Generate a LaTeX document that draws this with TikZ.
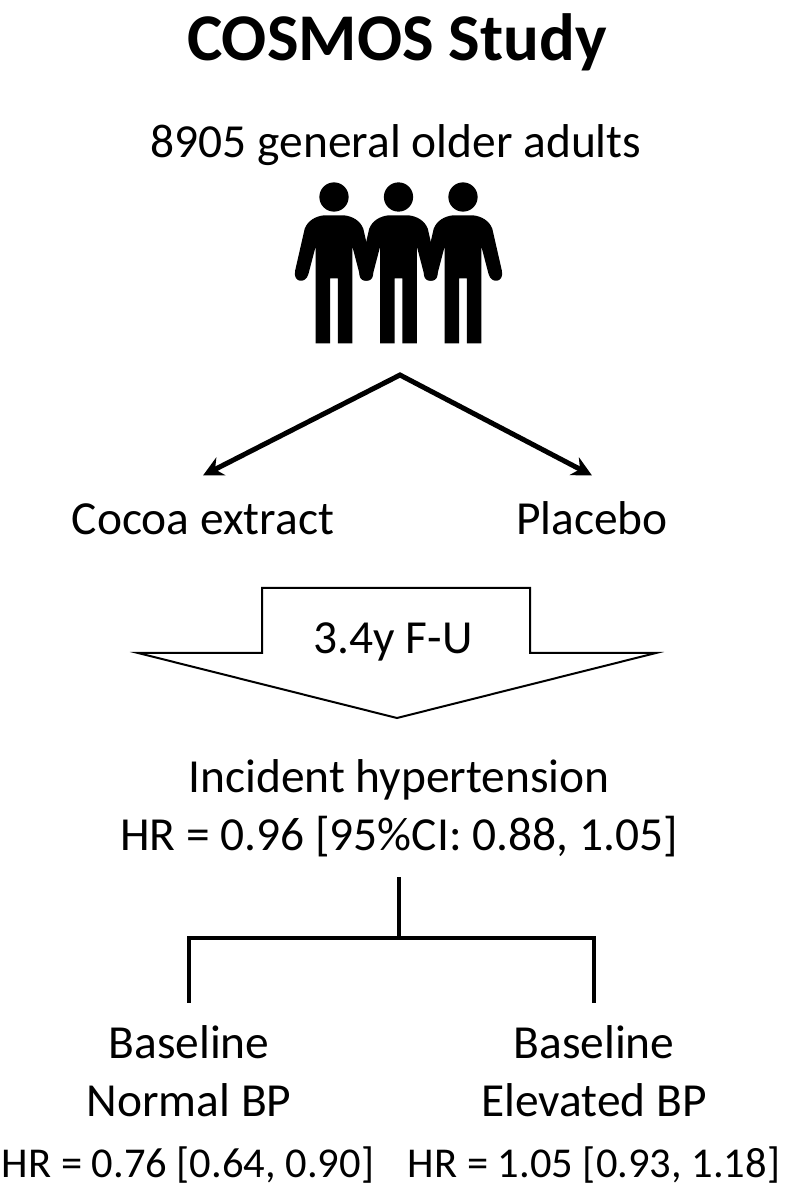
\documentclass[tikz,border=0pt]{standalone}
\usepackage{fontspec}
\usetikzlibrary{arrows.meta}
\setmainfont{Carlito}
\tikzset{
    lbl/.style={font=\fontsize{13.5}{16.4}\selectfont,align=center,inner sep=0pt},
    hrlbl/.style={font=\fontsize{12.1}{14}\selectfont,inner sep=0pt},
    armlbl/.style={lbl,text height=0.33cm,text depth=0cm,outer ysep=0.26cm},
    ttl/.style={font=\fontsize{19}{22}\selectfont\bfseries,inner sep=0pt},
    splitline/.style={{Stealth[length=0.2cm,width=0.2cm]}-{Stealth[length=0.2cm,width=0.2cm]},line width=0.05cm},
    forkline/.style={line width=0.04cm},
    person/.style={x=0.00333cm,y=0.00333cm}
}
\begin{document}
\begin{tikzpicture}[>=stealth]
\useasboundingbox (0,0) rectangle (7.89,12);
\node[ttl](title) at (3.97,11.58){COSMOS Study};
\node[lbl](adults) at (3.96,10.55){8905 general older adults};
% three people
\foreach \px in {3.34,3.985,4.63}{
\begin{scope}[shift={(\px,10.03)},person]
\fill (0,0) circle (44);
\fill (0,-55)--(30,-55) .. controls (55,-58) and (78,-70) .. (88,-95)--(117,-222) .. controls (124,-258) and (85,-262) .. (77,-232)--(55,-148)--(55,-440)--(12,-440)--(12,-245)--(-12,-245)--(-12,-440)--(-55,-440)--(-55,-148)--(-77,-232) .. controls (-85,-262) and (-124,-258) .. (-117,-222)--(-88,-95) .. controls (-78,-70) and (-55,-58) .. (-30,-55)--cycle;
\end{scope}
}
\coordinate (apex) at (4,8.25);
\node[armlbl](cocoa) at (2.03,6.82){Cocoa extract};
\node[armlbl](placebo) at (5.92,6.82){Placebo};
\draw[splitline](cocoa.north)--(apex)--(placebo.north);
% follow-up arrow
\draw[line width=0.02cm,fill=white](2.62,5.47)--(1.38,5.47)--(3.97,4.82)--(6.56,5.47)--(5.3,5.47)--(5.3,6.12)--(2.62,6.12)--cycle;
\node[lbl](fu) at (3.93,5.58){3.4y F-U};
\node[lbl](incident) at (3.99,3.92){Incident hypertension\\HR = 0.96 [95\%CI: 0.88, 1.05]};
\coordinate (fork) at (3.99,2.62);
\node[lbl](normal) at (1.89,1.29){Baseline\\Normal BP};
\node[lbl](elevated) at (5.94,1.29){Baseline\\Elevated BP};
\draw[forkline,shorten <=0.2cm](incident.south)--(fork);
\draw[forkline,shorten <=0.22cm,shorten >=0.22cm](normal.north)|-(fork)-|(elevated.north);
\node[hrlbl](hrnormal) at (1.88,0.35){HR = 0.76 [0.64, 0.90]};
\node[hrlbl](hrelevated) at (5.94,0.35){HR = 1.05 [0.93, 1.18]};
\end{tikzpicture}
\end{document}
